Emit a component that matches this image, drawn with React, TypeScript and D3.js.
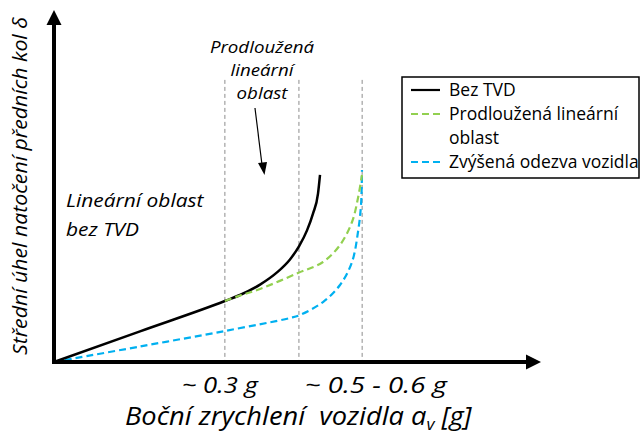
import React from "react";
import * as d3 from "d3";

// ---- data (x: lateral acceleration in g, y: relative steering angle) ----
const bezTvdX = [0, 0.151, 0.3, 0.3265, 0.3617, 0.3915, 0.4143, 0.4301, 0.4442, 0.4547, 0.4635, 0.467];
const bezTvdY = [0, 0.0877, 0.1743, 0.1914, 0.2211, 0.256, 0.2931, 0.3303, 0.376, 0.424, 0.4811, 0.5343];

const prodlX = [0.3, 0.3265, 0.3617, 0.4284, 0.4723, 0.5021, 0.5232, 0.5337, 0.5407];
const prodlY = [0.1743, 0.19, 0.2086, 0.2543, 0.2857, 0.3343, 0.4, 0.4686, 0.5343];

const zvysX = [0, 0.151, 0.3, 0.4143, 0.4319, 0.4723, 0.5021, 0.5232, 0.5337, 0.539, 0.5407];
const zvysY = [0, 0.0443, 0.0886, 0.1257, 0.1343, 0.1714, 0.22, 0.2857, 0.3714, 0.4486, 0.5486];

const guideX = [0.3, 0.43, 0.541];
const guideTop = 0.806;

const tickLabels = [
  { x: 0.291, label: "~ 0.3 g", len: 76 },
  { x: 0.565, label: "~ 0.5 - 0.6 g", len: 142 },
];

const legendItems = [
  { lines: ["Bez TVD"], color: "#000000", dash: "none" },
  { lines: ["Prodloužená lineární", "oblast"], color: "#92D050", dash: "7,4" },
  { lines: ["Zvýšená odezva vozidla"], color: "#00B0F0", dash: "7,4" },
];

const xMax = 0.855;
const yMax = 1;

export default function App() {
  const W = 640;
  const H = 434;
  const x0 = 54;
  const y0 = 362;
  const x = d3.scaleLinear().domain([0, xMax]).range([x0, 541]);
  const y = d3.scaleLinear().domain([0, yMax]).range([y0, 12]);

  const smooth = d3
    .line<[number, number]>()
    .x((d) => x(d[0]))
    .y((d) => y(d[1]))
    .curve(d3.curveMonotoneX);
  const cat = d3
    .line<[number, number]>()
    .x((d) => x(d[0]))
    .y((d) => y(d[1]))
    .curve(d3.curveCatmullRom.alpha(0.5));

  const zip = (a: number[], b: number[]) => a.map((v, i) => [v, b[i]] as [number, number]);

  const font = "'Open Sans', sans-serif";
  const axisEndX = x(xMax);
  const axisEndY = 10;

  return (
    <svg width={W} height={H} style={{ position: "absolute", left: 0, top: 0, background: "#fff" }}>
      <rect width={W} height={H} fill="#fff" />
      {/* guide lines */}
      {guideX.map((g, i) => (
        <line
          key={i}
          x1={x(g)}
          x2={x(g)}
          y1={y(guideTop)}
          y2={y(0)}
          stroke="#8c8c8c"
          strokeWidth={1}
          strokeDasharray="4,3"
        />
      ))}
      {/* curves */}
      <path d={cat(zip(zvysX, zvysY)) || ""} fill="none" stroke="#00B0F0" strokeWidth={2.2} strokeDasharray="7,4" />
      <path d={smooth(zip(bezTvdX, bezTvdY)) || ""} fill="none" stroke="#000" strokeWidth={2.5} />
      <path d={cat(zip(prodlX, prodlY)) || ""} fill="none" stroke="#92D050" strokeWidth={2.2} strokeDasharray="7,4" />

      {/* axes */}
      <line x1={x0} x2={x0} y1={y0 + 2} y2={axisEndY + 14} stroke="#000" strokeWidth={4} />
      <path d={`M${x0},${axisEndY} L${x0 - 7.5},${axisEndY + 15} L${x0 + 7.5},${axisEndY + 15} Z`} fill="#000" />
      <line x1={x0 - 2} x2={axisEndX - 14} y1={y0} y2={y0} stroke="#000" strokeWidth={4} />
      <path d={`M${axisEndX},${y0} L${axisEndX - 15},${y0 - 7.5} L${axisEndX - 15},${y0 + 7.5} Z`} fill="#000" />

      {/* tick labels */}
      {tickLabels.map((t, i) => (
        <text
          key={i}
          x={x(t.x)}
          y={393}
          textAnchor="middle"
          fontFamily={font}
          fontStyle="italic"
          fontSize={22}
          textLength={t.len}
          lengthAdjust="spacingAndGlyphs"
          fill="#000"
        >
          {t.label}
        </text>
      ))}
      {/* x title */}
      <g transform="translate(125,425) scale(1.09,1)">
        <text x={0} y={0} fontFamily={font} fontStyle="italic" fontSize={25} fill="#000">
          Boční zrychlení&#160; vozidla a<tspan fontSize={16} dy={5}>v</tspan>
          <tspan dy={-5}> [g]</tspan>
        </text>
      </g>
      {/* y title */}
      <text
        transform={`translate(27,355) rotate(-90)`}
        x={0}
        y={0}
        fontFamily={font}
        fontStyle="italic"
        fontSize={20}
        textLength={338}
        lengthAdjust="spacingAndGlyphs"
        fill="#000"
      >
        Střední úhel natočení předních kol δ
      </text>

      {/* annotations */}
      <g transform="translate(66,0) scale(1.1,1)">
        <text fontFamily={font} fontStyle="italic" fontSize={19} fill="#000">
          <tspan x={0} y={207}>Lineární oblast</tspan>
          <tspan x={0} y={236}>bez TVD</tspan>
        </text>
      </g>
      <g transform="translate(262,0) scale(1.1,1)">
        <text fontFamily={font} fontStyle="italic" fontSize={17} fill="#000" textAnchor="middle">
          <tspan x={0} y={53}>Prodloužená</tspan>
          <tspan x={0} y={76}>lineární</tspan>
          <tspan x={0} y={99}>oblast</tspan>
        </text>
      </g>
      <line x1={255} y1={108} x2={262} y2={165} stroke="#000" strokeWidth={1.2} />
      <path d="M264.5,175 L258,163 L267,162 Z" fill="#000" />

      {/* legend */}
      <rect x={402} y={77} width={237} height={101} fill="#fff" stroke="#000" strokeWidth={1.5} />
      {(() => {
        let row = 0;
        return legendItems.map((it, i) => {
          const cy = 90 + row * 24;
          const el = (
            <g key={i}>
              <line x1={411} x2={440} y1={cy} y2={cy} stroke={it.color} strokeWidth={2.2} strokeDasharray={it.dash} />
              {it.lines.map((l, j) => (
                <text key={j} x={449} y={cy + 6 + j * 24} fontFamily={font} fontSize={17.5} fill="#000">
                  {l}
                </text>
              ))}
            </g>
          );
          row += it.lines.length;
          return el;
        });
      })()}
    </svg>
  );
}
